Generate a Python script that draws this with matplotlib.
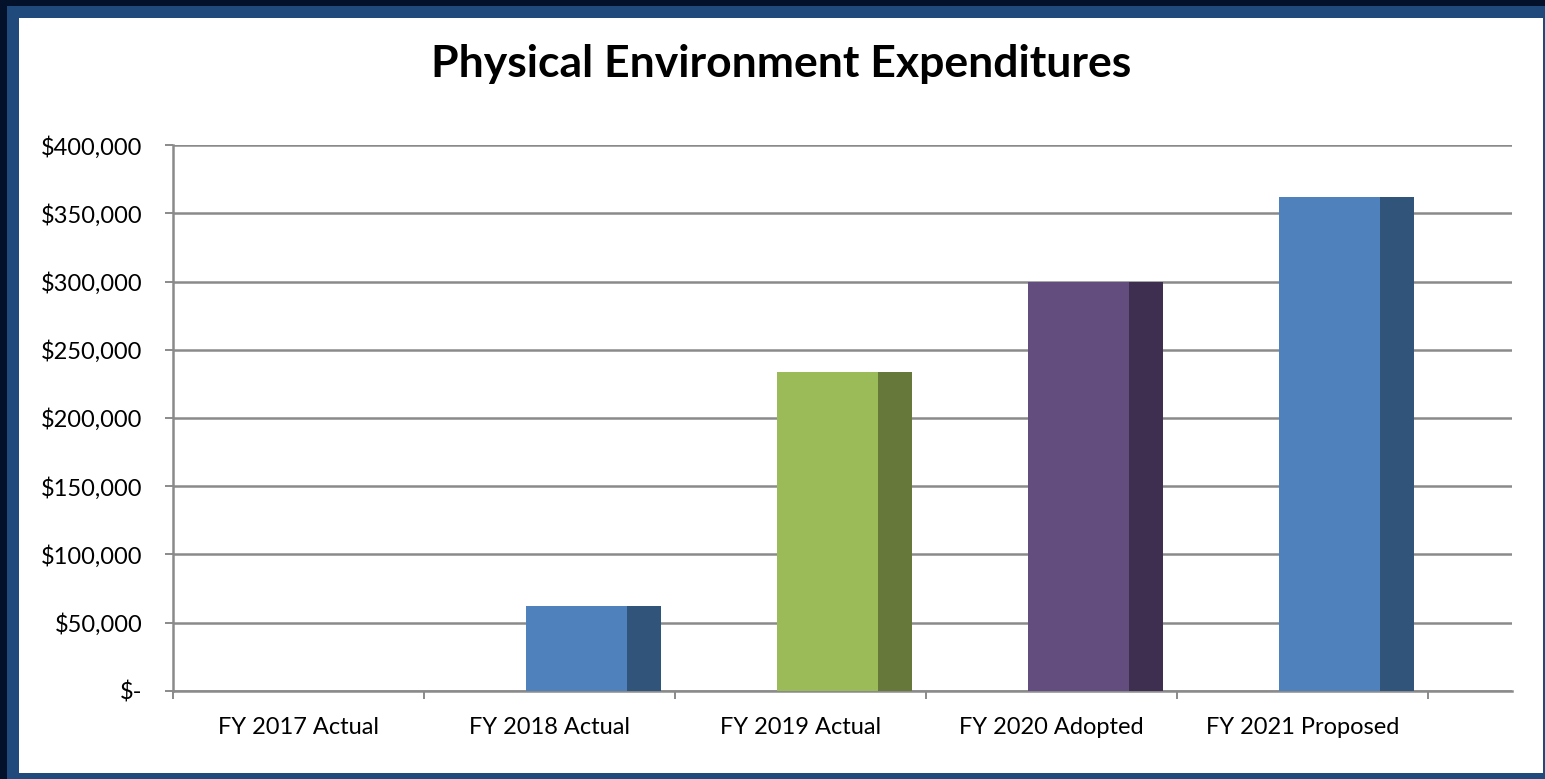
import matplotlib
matplotlib.use("Agg")
import matplotlib.pyplot as plt
from matplotlib.patches import Rectangle
import numpy as np

categories = ["FY 2017 Actual", "FY 2018 Actual", "FY 2019 Actual", "FY 2020 Adopted", "FY 2021 Proposed"]
values = [0, 62000, 233500, 300000, 362000]
front_colors = ["#4f81bd", "#4f81bd", "#9bbb59", "#634d7e", "#4f81bd"]
side_colors = ["#31547b", "#31547b", "#66793a", "#3e2f51", "#31547b"]
yticks = [0, 50000, 100000, 150000, 200000, 250000, 300000, 350000, 400000]
ytick_labels = ["$-", "$50,000", "$100,000", "$150,000", "$200,000", "$250,000", "$300,000", "$350,000", "$400,000"]
title = "Physical Environment Expenditures"

W, H = 1545, 779
fig = plt.figure(figsize=(W / 100, H / 100), dpi=100)
fig.patch.set_facecolor("#03112a")

def px_rect(x0, y0, x1, y1, color, z):
    fig.patches.append(Rectangle((x0 / W, 1 - y1 / H), (x1 - x0) / W, (y1 - y0) / H,
                                 transform=fig.transFigure, facecolor=color,
                                 edgecolor="none", zorder=z))

px_rect(7, 6, 1545, 779, "#214a7c", -3)
px_rect(19, 18, 1543, 773, "#ffffff", -2)

ax_l, ax_r, ax_t, ax_b = 173, 1512, 145.3, 690.7
ax = fig.add_axes([ax_l / W, 1 - ax_b / H, (ax_r - ax_l) / W, (ax_b - ax_t) / H])
ax.set_facecolor("none")

cat_w = 251.0
xmax = (ax_r - ax_l) / cat_w
x = np.arange(len(categories))
front_off = 0.407
front_w = 101 / cat_w
side_w = 34 / cat_w

ax.bar(x + front_off, values, width=front_w, align="edge", color=front_colors, zorder=3, linewidth=0)
ax.bar(x + front_off + front_w, values, width=side_w, align="edge", color=side_colors, zorder=3, linewidth=0)

ax.set_xlim(0, xmax)
ax.set_ylim(0, 400000)

grid_c = "#8a8a8a"
ax.set_yticks(yticks)
ax.set_yticklabels(ytick_labels)
ax.yaxis.grid(True, color=grid_c, linewidth=1.8, zorder=0)
ax.set_axisbelow(True)

ax.set_xticks(np.arange(len(categories) + 1))
ax.set_xticklabels([])
ax.set_xticks(x + 0.5, minor=True)
ax.set_xticklabels(categories, minor=True)
ax.tick_params(axis="x", which="minor", length=0, pad=19)
ax.tick_params(axis="x", which="major", length=6, width=1.4, color=grid_c)
ax.tick_params(axis="y", length=6, width=1.4, color=grid_c, pad=16)

font = "Lato"
for lab in ax.get_yticklabels() + ax.get_xticklabels(minor=True):
    lab.set_fontfamily(font)
    lab.set_fontsize(17)
    lab.set_color("#000000")

for s in ["top", "right"]:
    ax.spines[s].set_visible(False)
for s in ["left", "bottom"]:
    ax.spines[s].set_color(grid_c)
    ax.spines[s].set_linewidth(1.8)

fig.text(781 / W, 1 - 64 / H, title, ha="center", va="center",
         fontsize=32, fontweight="bold", family=font, color="#000000")

fig.savefig("out.png", dpi=100, facecolor=fig.get_facecolor())
